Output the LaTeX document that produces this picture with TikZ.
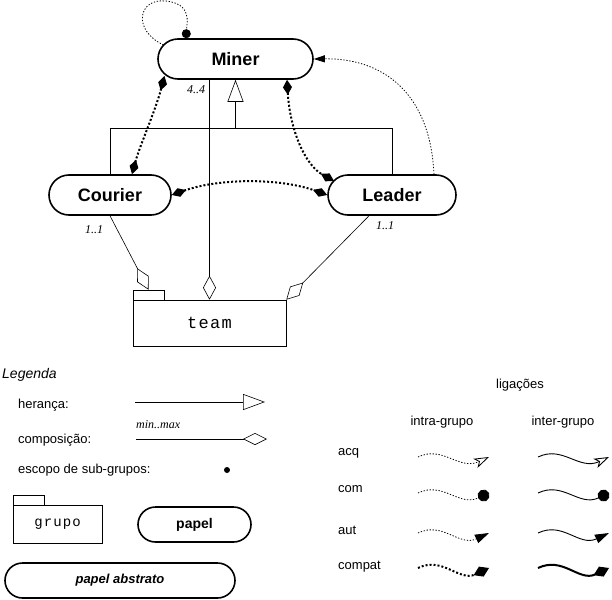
\documentclass[tikz,border=0pt]{standalone}
\usepackage{fontspec}
\setmainfont{Liberation Sans}
\newfontfamily\serifit{Liberation Serif}
\newfontfamily\monof[LetterSpace=8]{Liberation Mono}
\usetikzlibrary{arrows.meta,calc}
\begin{document}
\begin{tikzpicture}[x=1pt,y=-1pt,
  role/.style={draw, line width=1.6pt, rounded corners=20pt, minimum height=40pt, inner sep=0pt, font=\fontsize{18}{20}\selectfont\bfseries},
  grpbox/.style={draw, line width=0.6pt, inner sep=0pt},
  thinline/.style={line width=0.6pt},
  intradot/.style={line width=0.8pt, dash pattern=on 1.3pt off 1.7pt},
  compatdot/.style={line width=2pt, dash pattern=on 2pt off 2pt},
  compatsolid/.style={line width=2pt},
  intersolid/.style={line width=0.9pt},
  lbl/.style={inner sep=0pt, font=\fontsize{13}{15}\selectfont},
  mult/.style={inner sep=0pt, font=\fontsize{12}{14}\serifit\itshape},
  cdia/.tip={Diamond[length=15pt,width=9pt]},
  odia/.tip={Diamond[open,length=24pt,width=13pt]},
  otri/.tip={Triangle[open,length=22pt,width=16pt]},
  ftri/.tip={Triangle[length=11pt,width=7pt]},
  fcirc/.tip={Circle[length=9pt]},
  lcdia/.tip={Diamond[length=17pt,width=11pt]},
  lftri/.tip={Triangle[length=14pt,width=9pt]},
  lfcirc/.tip={Circle[length=12pt]},
  loacq/.tip={Stealth[open,length=15pt,width=10pt,inset=4pt]},
]
\useasboundingbox (0,0) rectangle (612,599);

% ---- role nodes
\node[role, minimum width=155pt] (miner) at (235.5,59) {Miner};
\node[role, minimum width=122pt] (courier) at (110,195) {Courier};
\node[role, minimum width=128pt] (leader) at (392,195) {Leader};

% ---- group team
\node[grpbox, minimum width=153pt, minimum height=46pt, font=\fontsize{17}{19}\monof] (team) at (209.5,323) {team};
\node[grpbox, minimum width=31pt, minimum height=10pt] (teamtab) at (148.5,295) {};

% ---- inheritance
\coordinate (ih) at ($(miner.south)+(0,48)$);
\draw[thinline, -otri] (ih) -- (miner.south);
\draw[thinline] (courier.north) |- (ih) -| (leader.north);

% ---- compositions into team
\draw[thinline, -odia] ($(miner.south)+(-26,0)$) -- (team.north);
\draw[thinline, -odia] (courier.south) -- (teamtab.north);
\draw[thinline, -odia] ($(leader.south)+(-23,0)$) -- (team.north east);

\node[mult] (m44) at (196,90) {4..4};
\node[mult] (m11c) at (94,230) {1..1};
\node[mult] (m11l) at (385,226) {1..1};

% ---- self loop (com, intra)
\draw[intradot, -fcirc] ($(miner.center)+(-72,-14)$) .. controls (132,30) and (138,-2) .. (166,1)
   .. controls (192,4) and (187,22) .. ($(miner.north)+(-49.5,0)$);

% ---- compat links (intra)
\draw[compatdot, cdia-cdia] ($(miner.center)+(-71,17)$) .. controls (155,112) and (140,145) .. ($(courier.north)+(22,0)$);
\draw[compatdot, cdia-cdia] ($(miner.south)+(51.5,0)$) .. controls (290,130) and (305,165) .. ($(leader.center)+(-58,-14)$);
\draw[compatdot, cdia-cdia] (courier.east) .. controls (220,178) and (280,178) .. (leader.west);

% ---- aut link leader -> miner
\draw[intradot, -ftri] ($(leader.north)+(42,0)$) .. controls (430,90) and (380,58) .. (miner.east);

% ---- legend (left)
\node[lbl, anchor=west, font=\fontsize{14}{16}\selectfont\itshape] (legenda) at (2,375) {Legenda};
\node[lbl, anchor=west] (heranca) at (18,405) {herança:};
\node[lbl, anchor=west] (composicao) at (18,440) {composição:};
\node[lbl, anchor=west] (escopo) at (18,470) {escopo de sub-grupos:};
\coordinate (hA) at (135,402);
\coordinate (hB) at (265,402);
\draw[thinline, -otri] (hA) -- (hB);
\coordinate (cA) at (136,439);
\coordinate (cB) at (267,439);
\draw[thinline, -{Diamond[open,length=24pt,width=12pt]}] (cA) -- (cB);
\node[mult, anchor=west] (minmax) at (136,425) {min..max};
\node[circle, fill=black, inner sep=0pt, minimum size=6pt] (scopedot) at (227,470) {};

\node[grpbox, minimum width=89pt, minimum height=38pt, font=\fontsize{14}{16}\monof] (grupo) at (57.5,524) {grupo};
\node[grpbox, minimum width=31pt, minimum height=10pt] (grupotab) at (28.5,500) {};

\node[role, minimum width=113pt, minimum height=35pt, rounded corners=17.5pt, font=\fontsize{14}{16}\selectfont\bfseries] (papel) at (194.5,524.5) {papel};
\node[role, minimum width=230pt, minimum height=35pt, rounded corners=17.5pt, font=\fontsize{13}{15}\selectfont\bfseries\itshape] (abstrato) at (120,580.5) {papel abstrato};

% ---- legend (right)
\node[lbl] (ligacoes) at (520,385) {ligações};
\node[lbl] (intra) at (442,422) {intra-grupo};
\node[lbl] (inter) at (563,422) {inter-grupo};
\node[lbl, anchor=west] (acq) at (338,453) {acq};
\node[lbl, anchor=west] (com) at (338,489) {com};
\node[lbl, anchor=west] (aut) at (338,530) {aut};
\node[lbl, anchor=west] (compat) at (338,567) {compat};

\foreach \nm/\yy in {acq/457, com/493, aut/533, compat/568}{
  \coordinate (\nm I1) at (418,\yy);
  \coordinate (\nm I2) at (489,\yy);
  \coordinate (\nm E1) at (538,\yy);
  \coordinate (\nm E2) at (609,\yy);
}
\draw[intradot, -loacq] (acqI1) .. controls +(25,-12) and +(-30,14) .. (acqI2);
\draw[intersolid, -loacq] (acqE1) .. controls +(25,-12) and +(-30,14) .. (acqE2);
\draw[intradot, -lfcirc] (comI1) .. controls +(25,-12) and +(-30,14) .. (comI2);
\draw[intersolid, -lfcirc] (comE1) .. controls +(25,-12) and +(-30,14) .. (comE2);
\draw[intradot, -lftri] (autI1) .. controls +(25,-12) and +(-30,14) .. (autI2);
\draw[intersolid, -lftri] (autE1) .. controls +(25,-12) and +(-30,14) .. (autE2);
\draw[compatdot, -lcdia] (compatI1) .. controls +(25,-12) and +(-30,14) .. (compatI2);
\draw[compatsolid, -lcdia] (compatE1) .. controls +(25,-12) and +(-30,14) .. (compatE2);
\end{tikzpicture}
\end{document}
